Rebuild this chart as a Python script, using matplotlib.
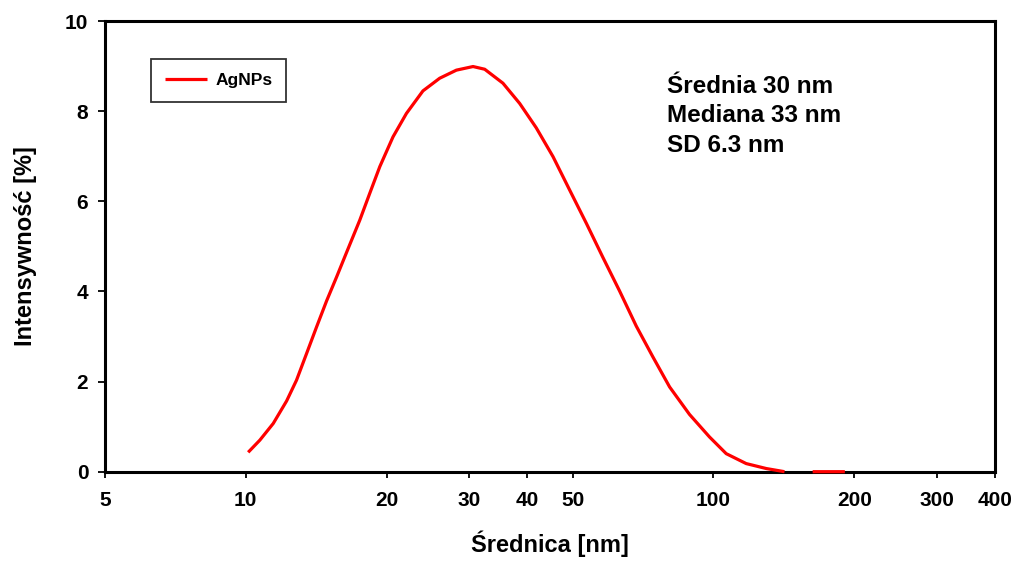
import numpy as np
import matplotlib
matplotlib.use("Agg")
import matplotlib.pyplot as plt

plt.rcParams['font.family'] = ['Liberation Sans', 'DejaVu Sans']
plt.rcParams['font.weight'] = 'bold'

# Data (NaN marks the gap in the zero tail)
diameter_nm = [10.12, 10.72, 11.45, 12.23, 12.84, 13.49, 14.17, 14.89, 15.64, 16.42,
               17.53, 18.42, 19.35, 20.65, 22.06, 23.93, 25.98, 28.21, 30.62, 32.43,
               35.48, 38.53, 41.8, 45.4, 49.27, 53.5, 58.0, 63.0, 68.4, 74.2,
               80.6, 88.9, 98.1, 106.5, 117.5, 129.7, 141.9, 153.0, 163.0, 177.0, 191.0]
intensity_pct = [0.43, 0.70, 1.07, 1.57, 2.03, 2.62, 3.21, 3.79, 4.32, 4.86,
                 5.58, 6.18, 6.77, 7.43, 7.95, 8.45, 8.73, 8.91, 8.99, 8.93,
                 8.62, 8.17, 7.63, 6.99, 6.25, 5.51, 4.76, 4.01, 3.23, 2.55,
                 1.88, 1.27, 0.77, 0.40, 0.18, 0.07, 0.0, np.nan, 0.0, 0.0, 0.0]
series_label = "AgNPs"
xtick_values = [5, 10, 20, 30, 40, 50, 100, 200, 300, 400]
ytick_values = [0, 2, 4, 6, 8, 10]
stats_text = ["Średnia 30 nm", "Mediana 33 nm", "SD 6.3 nm"]

fig = plt.figure(figsize=(10.18, 5.62), dpi=100)
ax = fig.add_axes([0.1031, 0.1607, 0.8743, 0.8019])

ax.plot(diameter_nm, intensity_pct, color='#ff0000', lw=2.3, label=series_label,
        clip_on=False, zorder=3, solid_capstyle='butt', solid_joinstyle='round')

ax.set_xscale('log')
ax.set_xlim(5, 400)
ax.set_ylim(0, 10)
ax.xaxis.set_minor_locator(matplotlib.ticker.NullLocator())
ax.set_xticks(xtick_values)
ax.set_xticklabels([str(v) for v in xtick_values])
ax.set_yticks(ytick_values)
ax.set_yticklabels([str(v) for v in ytick_values])

for s in ax.spines.values():
    s.set_linewidth(2.2)
    s.set_color('black')

ax.tick_params(axis='x', direction='out', length=4, width=1.3, pad=10, labelsize=15)
ax.tick_params(axis='y', direction='out', length=5, width=1.3, pad=7, labelsize=15)
for lab in ax.get_xticklabels() + ax.get_yticklabels():
    lab.set_fontweight('bold')

ax.set_xlabel("Średnica [nm]", fontsize=17, fontweight='bold', labelpad=15)
ax.set_ylabel("Intensywność [%]", fontsize=17, fontweight='bold', labelpad=20)

leg = ax.legend(loc='upper left', bbox_to_anchor=(0.0517, 0.9157), borderaxespad=0,
                fancybox=False, edgecolor='#333333', framealpha=1,
                prop={'size': 12.5, 'weight': 'bold'},
                handlelength=2.4, handletextpad=0.5, borderpad=0.8)
leg.get_frame().set_linewidth(1.3)

fig.text(0.655, 0.7936, "\n".join(stats_text), ha='left', va='center',
         fontsize=17.5, fontweight='bold', linespacing=1.37)

fig.savefig("out.png", dpi=100)
